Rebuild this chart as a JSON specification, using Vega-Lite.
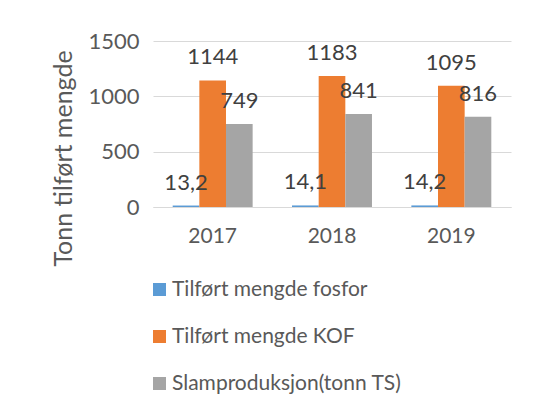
{
  "$schema": "https://vega.github.io/schema/vega-lite/v6.json",
  "autosize": {"type": "none"},
  "width": 358,
  "height": 166,
  "padding": {"left": 153, "top": 41, "right": 25, "bottom": 200},
  "background": "white",
  "data": {
    "values": [
      {"year": "2017", "series": "Tilført mengde fosfor", "value": 13.2, "label": "13,2"},
      {"year": "2017", "series": "Tilført mengde KOF", "value": 1144, "label": "1144"},
      {"year": "2017", "series": "Slamproduksjon(tonn TS)", "value": 749, "label": "749"},
      {"year": "2018", "series": "Tilført mengde fosfor", "value": 14.1, "label": "14,1"},
      {"year": "2018", "series": "Tilført mengde KOF", "value": 1183, "label": "1183"},
      {"year": "2018", "series": "Slamproduksjon(tonn TS)", "value": 841, "label": "841"},
      {"year": "2019", "series": "Tilført mengde fosfor", "value": 14.2, "label": "14,2"},
      {"year": "2019", "series": "Tilført mengde KOF", "value": 1095, "label": "1095"},
      {"year": "2019", "series": "Slamproduksjon(tonn TS)", "value": 816, "label": "816"}
    ]
  },
  "encoding": {
    "x": {
      "field": "year", "type": "nominal",
      "scale": {"paddingInner": 0.33, "paddingOuter": 0.165},
      "axis": {
        "title": null, "labelAngle": 0, "labelFont": "Lato", "labelFontSize": 21,
        "labelColor": "#595959", "labelPadding": 18, "ticks": false,
        "domainColor": "#d9d9d9", "domainWidth": 1
      }
    },
    "xOffset": {
      "field": "series", "type": "nominal",
      "sort": ["Tilført mengde fosfor", "Tilført mengde KOF", "Slamproduksjon(tonn TS)"],
      "scale": {"paddingInner": 0, "paddingOuter": 0}
    },
    "y": {
      "field": "value", "type": "quantitative",
      "scale": {"domain": [0, 1500]},
      "axis": {
        "values": [0, 500, 1000, 1500], "format": "d", "title": "Tonn tilført mengde",
        "titleFont": "Lato", "titleFontSize": 25, "titleFontWeight": "normal", "titleColor": "#595959",
        "titleX": -90, "titleY": 117, "titleAngle": -90, "titleAlign": "center", "titleBaseline": "middle",
        "labelFont": "Lato", "labelFontSize": 22, "labelColor": "#595959", "labelPadding": 14,
        "ticks": false, "domain": false, "gridColor": "#d9d9d9", "gridWidth": 1
      }
    }
  },
  "layer": [
    {
      "mark": {"type": "bar"},
      "encoding": {
        "color": {
          "field": "series", "type": "nominal",
          "sort": ["Tilført mengde fosfor", "Tilført mengde KOF", "Slamproduksjon(tonn TS)"],
          "scale": {
            "domain": ["Tilført mengde fosfor", "Tilført mengde KOF", "Slamproduksjon(tonn TS)"],
            "range": ["#5B9BD5", "#ED7D31", "#A5A5A5"]
          },
          "legend": {
            "title": null, "orient": "none", "legendX": -4, "legendY": 238,
            "direction": "vertical", "symbolType": "square", "symbolSize": 169,
            "symbolStrokeWidth": 0, "labelFont": "Lato", "labelFontSize": 21,
            "labelColor": "#595959", "labelOffset": 2, "rowPadding": 25, "labelLimit": 0
          }
        }
      }
    },
    {
      "mark": {"type": "text", "baseline": "middle", "dy": -23, "font": "Lato", "fontSize": 22, "color": "#404040"},
      "encoding": {"text": {"field": "label"}}
    }
  ],
  "config": {"view": {"stroke": null}}
}
